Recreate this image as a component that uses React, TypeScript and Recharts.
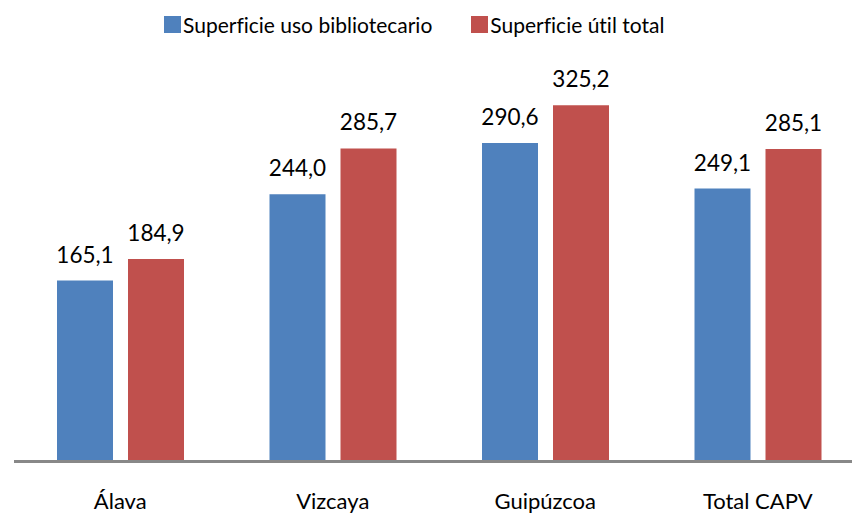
import { Bar, BarChart, Legend, XAxis, YAxis } from "recharts";

const CATEGORIES = ["Álava", "Vizcaya", "Guipúzcoa", "Total CAPV"];
const USO_BIBLIOTECARIO = [165.1, 244.0, 290.6, 249.1];
const UTIL_TOTAL = [184.9, 285.7, 325.2, 285.1];
const SERIES_NAMES = ["Superficie uso bibliotecario", "Superficie útil total"];

const BLUE = "#4F81BD";
const RED = "#C0504D";
const FONT = "Lato, 'Open Sans', sans-serif";

const data = CATEGORIES.map((name, i) => ({
  name,
  uso: USO_BIBLIOTECARIO[i],
  util: UTIL_TOTAL[i],
}));

const formatValue = (v: number) => v.toFixed(1).replace(".", ",");

const ValueLabel = (props: any) => {
  const { x, y, width, value } = props;
  return (
    <text
      x={Number(x) + Number(width) / 2}
      y={Number(y) - 18}
      textAnchor="middle"
      fontFamily={FONT}
      fontSize={22.5}
      fill="#000"
    >
      {formatValue(Number(value))}
    </text>
  );
};

const CategoryTick = (props: any) => {
  const { x, y, payload } = props;
  return (
    <text
      x={x}
      y={Number(y) + 47.5}
      textAnchor="middle"
      fontFamily={FONT}
      fontSize={22}
      fill="#000"
    >
      {payload.value}
    </text>
  );
};

const LegendContent = () => (
  <div
    style={{
      display: "flex",
      paddingLeft: 164,
      gap: 39,
      fontFamily: FONT,
      fontSize: 21,
      lineHeight: "20px",
      color: "#000",
      fontVariantLigatures: "none",
    }}
  >
    {SERIES_NAMES.map((label, i) => (
      <div key={label} style={{ display: "flex", alignItems: "flex-start" }}>
        <span
          style={{
            width: 17,
            height: 17,
            marginTop: 1,
            marginRight: 2,
            background: i === 0 ? BLUE : RED,
            display: "inline-block",
          }}
        />
        <span>{label}</span>
      </div>
    ))}
  </div>
);

export default function App() {
  return (
    <div
      style={{
        position: "absolute",
        top: 0,
        left: 0,
        width: 852,
        height: 514,
        overflow: "hidden",
        background: "#fff",
      }}
    >
      <BarChart
        width={864}
        height={514}
        data={data}
        margin={{ top: 78, right: 0, bottom: 0, left: 14 }}
        barSize={56}
        barGap={15}
      >
        <Legend
          layout="horizontal"
          verticalAlign="middle"
          content={<LegendContent />}
          wrapperStyle={{ top: 15, left: 0, width: 852 }}
        />
        <YAxis hide domain={[0, 350]} />
        <XAxis
          dataKey="name"
          height={52.5}
          tickSize={0}
          tickMargin={0}
          tickLine={false}
          axisLine={{ stroke: "#888888", strokeWidth: 3 }}
          tick={<CategoryTick />}
          interval={0}
        />
        <Bar
          dataKey="uso"
          name={SERIES_NAMES[0]}
          fill={BLUE}
          isAnimationActive={false}
          label={<ValueLabel />}
        />
        <Bar
          dataKey="util"
          name={SERIES_NAMES[1]}
          fill={RED}
          isAnimationActive={false}
          label={<ValueLabel />}
        />
      </BarChart>
    </div>
  );
}
